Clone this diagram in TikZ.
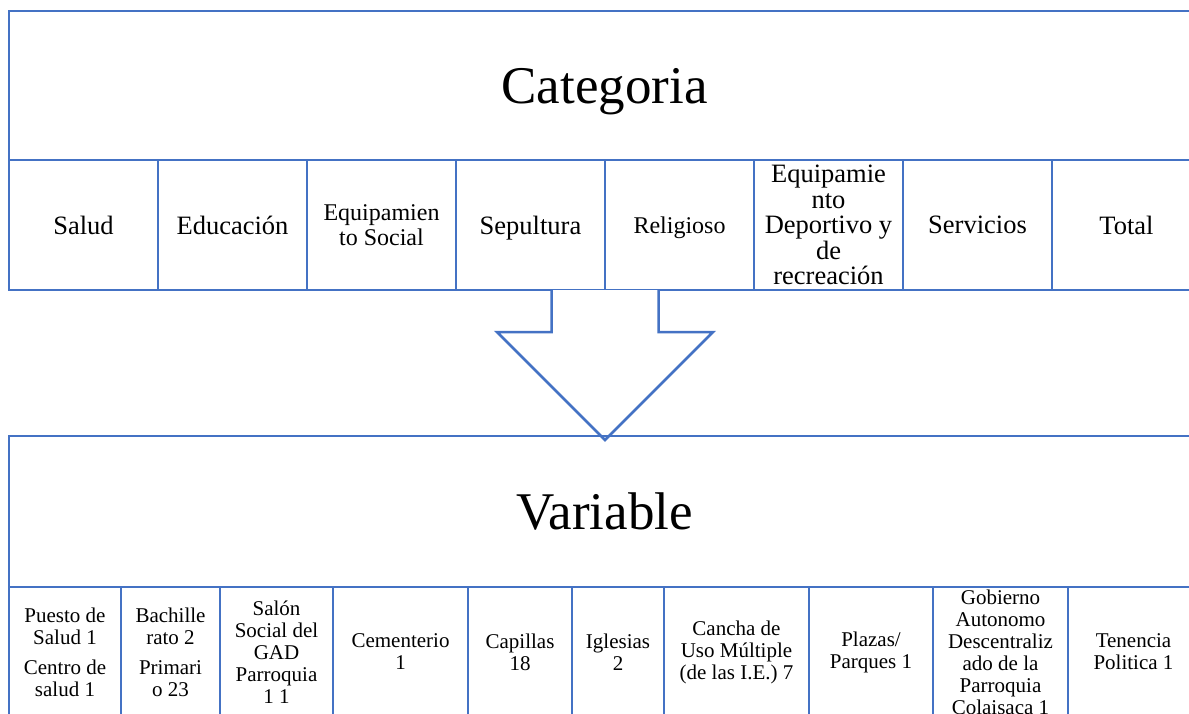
\documentclass[tikz,border=0pt]{standalone}
\usepackage{fontspec}
\setmainfont{Liberation Serif}
\usetikzlibrary{positioning,calc}
\definecolor{boxblue}{HTML}{4472C4}

\begin{document}
\begin{tikzpicture}[x=1pt, y=-1pt, node distance=0pt,
  hdr/.style={draw=boxblue, line width=2.5pt, outer sep=0pt, inner sep=0pt, minimum width=1191pt, font=\fontsize{53}{56}\selectfont},
  catcell/.style={draw=boxblue, line width=2.5pt, outer sep=0pt, inner sep=0pt, align=center, minimum width=149pt, minimum height=130pt, font=\fontsize{26.5}{25.5}\selectfont},
  varcell/.style={draw=boxblue, line width=2.5pt, outer sep=0pt, inner sep=0pt, align=center, minimum height=130pt, font=\fontsize{21}{22}\selectfont},
  bigarrow/.style={draw=boxblue, line width=2.5pt, fill=white, line join=miter}]
\useasboundingbox (0,0) rectangle (1189,713);
\clip (0,0) rectangle (1189,713);
% top block
\node[hdr, minimum height=149pt, text depth=0pt, anchor=north west] (cathead) at (9,11) {Categoria};
\node[catcell, anchor=north west] (c1) at (cathead.south west) {Salud};
\node[catcell, right=of c1] (c2) {Educación};
\node[catcell, right=of c2, font=\fontsize{24}{25}\selectfont] (c3) {Equipamien\\to Social};
\node[catcell, right=of c3, text depth=0pt] (c4) {Sepultura};
\node[catcell, right=of c4, text depth=0pt, font=\fontsize{24}{25}\selectfont] (c5) {Religioso};
\node[catcell, right=of c5] (c6) {Equipamie\\nto\\Deportivo y\\de\\recreación};
\node[catcell, right=of c6] (c7) {Servicios};
\node[catcell, right=of c7] (c8) {Total};
% arrow
\coordinate (mid) at (c4.south east);
\draw[bigarrow] ($(mid)+(-53.5,0)$) -- ++(0,42) -- ++(-54.5,0) -- ($(mid)+(0,150)$)
  -- ($(mid)+(108,42)$) -- ++(-54.5,0) -- ($(mid)+(53.5,0)$);
% bottom block
\node[hdr, minimum height=151pt, anchor=north west] (varhead) at (9,436) {Variable};
\node[varcell, anchor=north west, minimum width=112pt] (v1) at (varhead.south west) {Puesto de\\Salud 1\\[8pt]Centro de\\salud 1};
\node[varcell, right=of v1, minimum width=99pt] (v2) {Bachille\\rato 2\\[8pt]Primari\\o 23};
\node[varcell, right=of v2, minimum width=113pt] (v3) {Salón\\Social del\\GAD\\Parroquia\\1 1};
\node[varcell, right=of v3, minimum width=135pt] (v4) {Cementerio\\1};
\node[varcell, right=of v4, minimum width=104pt] (v5) {Capillas\\18};
\node[varcell, right=of v5, minimum width=92pt] (v6) {Iglesias\\2};
\node[varcell, right=of v6, minimum width=145pt] (v7) {Cancha de\\Uso Múltiple\\(de las I.E.) 7};
\node[varcell, right=of v7, minimum width=124pt] (v8) {Plazas/\\Parques 1};
\node[varcell, right=of v8, minimum width=135pt] (v9) {Gobierno\\Autonomo\\Descentraliz\\ado de la\\Parroquia\\Colaisaca 1};
\node[varcell, right=of v9, minimum width=131pt] (v10) {Tenencia\\Politica 1};
\end{tikzpicture}
\end{document}
